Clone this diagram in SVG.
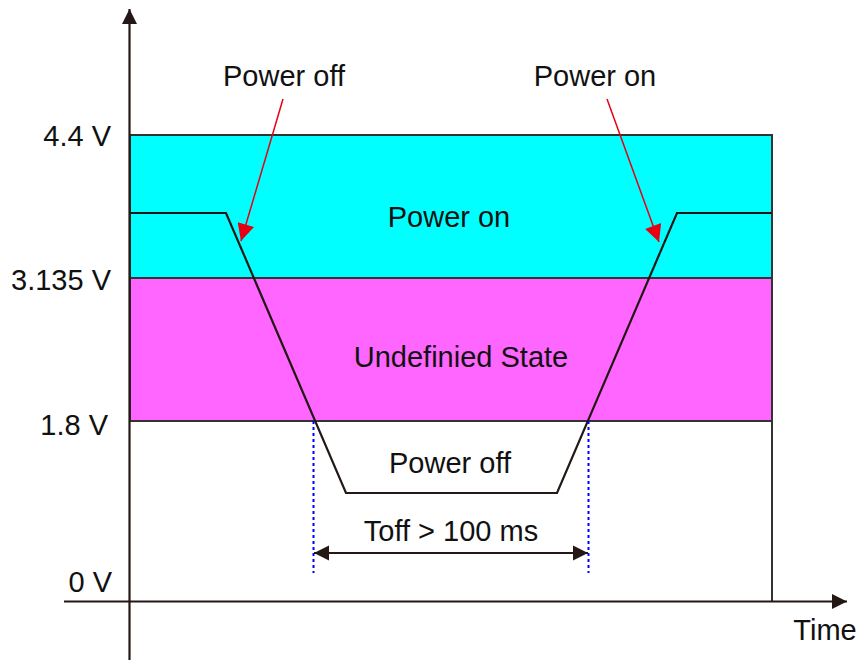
<svg xmlns="http://www.w3.org/2000/svg" width="859" height="660" viewBox="0 0 859 660">
<style>
text{font-family:"Liberation Sans",Arial,sans-serif;font-size:29px;fill:#111}
.ax{stroke:#231815;stroke-width:2.2;fill:none}
.band{stroke:#333;stroke-width:2}
.wave{stroke:#231815;stroke-width:2.2;fill:none}
.dot{stroke:#0000ff;stroke-width:2;stroke-dasharray:3 3;fill:none}
.red{stroke:#e60012;stroke-width:1.5;fill:none}
</style>
<defs>
<marker id="ah" viewBox="0 0 10 10" refX="10" refY="5" markerWidth="15" markerHeight="16" markerUnits="userSpaceOnUse" orient="auto-start-reverse">
<path d="M0,0 L10,5 L0,10 z" fill="#231815"/>
</marker>
<marker id="rh" viewBox="0 0 10 10" refX="10" refY="5" markerWidth="18" markerHeight="17" markerUnits="userSpaceOnUse" orient="auto">
<path d="M0,0 L10,5 L0,10 z" fill="#e60012"/>
</marker>
</defs>
<g id="bands">
<rect id="power-on-band" class="band" x="130" y="135" width="642" height="143" fill="#00ffff"/>
<rect id="undefined-band" class="band" x="130" y="278" width="642" height="143" fill="#ff66ff"/>
<line class="band" x1="772" y1="421" x2="772" y2="601"/>
</g>
<g id="axes">
<line class="ax" x1="129.5" y1="660" x2="129.5" y2="9" marker-end="url(#ah)"/>
<line class="ax" x1="64" y1="601.5" x2="847" y2="601.5" marker-end="url(#ah)"/>
</g>
<g id="connectors">
<polyline id="waveform" class="wave" points="130,213 226,213 346,493 557,493 677,213 772,213"/>
<line class="dot" x1="313.5" y1="421" x2="313.5" y2="573"/>
<line class="dot" x1="588.5" y1="421" x2="588.5" y2="573"/>
<line class="ax" x1="314" y1="553" x2="588" y2="553" marker-start="url(#ah)" marker-end="url(#ah)"/>
<line class="red" x1="283" y1="99" x2="241" y2="241" marker-end="url(#rh)"/>
<line class="red" x1="607" y1="99" x2="659" y2="242" marker-end="url(#rh)"/>
</g>
<g id="labels">
<text x="111" y="146" text-anchor="end">4.4 V</text>
<text x="111" y="290" text-anchor="end">3.135 V</text>
<text x="108" y="435" text-anchor="end">1.8 V</text>
<text x="112" y="592" text-anchor="end">0 V</text>
<text x="825" y="640" text-anchor="middle">Time</text>
<text x="284" y="86" text-anchor="middle">Power off</text>
<text x="595" y="86" text-anchor="middle">Power on</text>
<text x="449" y="227" text-anchor="middle">Power on</text>
<text x="461" y="367" text-anchor="middle">Undefinied State</text>
<text x="450" y="473" text-anchor="middle">Power off</text>
<text x="451" y="541" text-anchor="middle">Toff &gt; 100 ms</text>
</g>
</svg>
